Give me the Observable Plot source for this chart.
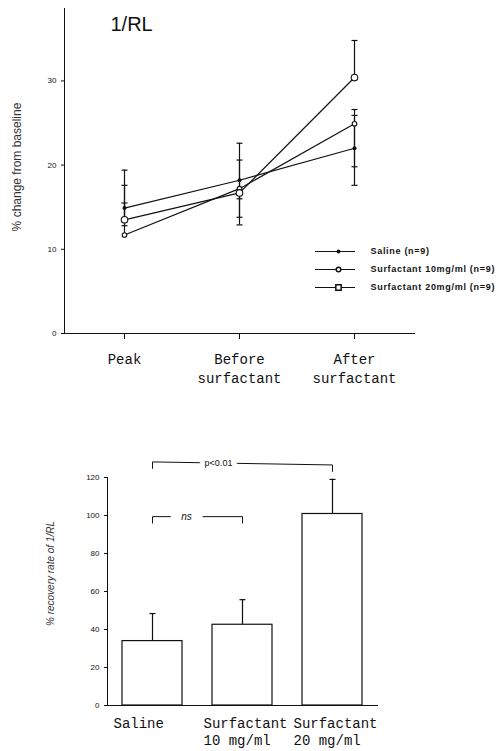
<!DOCTYPE html>
<html><head><meta charset="utf-8">
<script src="https://cdn.jsdelivr.net/npm/d3@7"></script>
<script src="https://cdn.jsdelivr.net/npm/@observablehq/plot@0.6"></script>
<style>
body{margin:0;background:#fff;}
#wrap{position:relative;width:499px;height:751px;overflow:hidden;background:#fff;}
#wrap svg{display:block;}
#legend{position:absolute;left:300px;top:240px;}
</style></head><body>
<div id="wrap"><div id="top"></div><div id="bottom"></div><div id="legend"></div></div>
<script>
// ---- Top chart data: 1/RL, % change from baseline ----
const timepoints = ["Peak", "Before surfactant", "After surfactant"];
const timeLabels = ["Peak", "Before\nsurfactant", "After\nsurfactant"];
const seriesNames = ["Saline (n=9)", "Surfactant 10mg/ml (n=9)", "Surfactant 20mg/ml (n=9)"];
const salineMean = [14.9, 18.2, 22.0];
const salineHi   = [17.6, 20.6, 26.6];
const salineLo   = [12.8, 16.0, 17.6];
const surf10Mean = [11.7, 17.2, 24.9];
const surf10Hi   = [15.5, 22.6, 25.9];
const surf10Lo   = [11.7, 13.8, 19.8];
const surf20Mean = [13.5, 16.7, 30.4];
const surf20Hi   = [19.4, 16.7, 34.8];
const surf20Lo   = [13.5, 12.9, 30.4];
const topYTicks = [0, 10, 20, 30];

// ---- Bottom chart data: % recovery rate of 1/RL ----
const barCategories = ["Saline", "Surfactant 10 mg/ml", "Surfactant 20 mg/ml"];
const barLabels = ["Saline", "Surfactant\n10 mg/ml", "Surfactant\n20 mg/ml"];
const recoveryMean = [33.9, 42.5, 100.8];
const recoveryErr  = [14.5, 13.2, 18.2];
const barYTicks = [0, 20, 40, 60, 80, 100, 120];
const bracketFrom = ["Saline", "Saline"];
const bracketTo = ["Surfactant 20 mg/ml", "Surfactant 10 mg/ml"];
const bracketYFrom = [128.2, 99.4];
const bracketYTo = [126.6, 99.4];
const bracketLabels = ["p<0.01", "ns"];

// custom horizontal cap symbol for error bars
const capSymbol = {draw(ctx, size) { const w = Math.sqrt(size / Math.PI); ctx.moveTo(-w, 0); ctx.lineTo(w, 0); }};

const seriesData = [[salineMean, salineHi, salineLo], [surf10Mean, surf10Hi, surf10Lo], [surf20Mean, surf20Hi, surf20Lo]];
const rows = [];
seriesData.forEach((arr, s) => timepoints.forEach((t, i) => rows.push({series: seriesNames[s], time: t, mean: arr[0][i], hi: arr[1][i], lo: arr[2][i]})));
const ink = "#111";

const topPlot = Plot.plot({
  width: 499, height: 390,
  marginLeft: 64, marginRight: 85, marginTop: 8, marginBottom: 57,
  style: {fontFamily: "'Liberation Sans', Arial, sans-serif", fontSize: "8px", color: ink, background: "white", overflow: "visible"},
  x: {type: "point", domain: timepoints, padding: 0.52},
  y: {domain: [0, 38.6]},
  marks: [
    Plot.frame({anchor: "left", stroke: ink}),
    Plot.frame({anchor: "bottom", stroke: ink}),
    Plot.axisY({ticks: topYTicks, tickSize: 3, tickPadding: 5, label: null, fontSize: 8}),
    Plot.axisX({tickSize: 6, tickPadding: 12, label: null, tickFormat: d => timeLabels[timepoints.indexOf(d)],
      fontFamily: "'Liberation Mono', monospace", fontSize: 14, lineHeight: 1.3}),
    Plot.ruleX(rows, {x: "time", y1: "lo", y2: "hi", stroke: ink, strokeWidth: 1.2}),
    Plot.dot(rows.filter(d => d.hi > d.mean), {x: "time", y: "hi", symbol: capSymbol, r: 3, stroke: ink, fill: "none", strokeWidth: 1.2}),
    Plot.dot(rows.filter(d => d.lo < d.mean), {x: "time", y: "lo", symbol: capSymbol, r: 3, stroke: ink, fill: "none", strokeWidth: 1.2}),
    Plot.line(rows, {x: "time", y: "mean", z: "series", stroke: ink, strokeWidth: 1.2}),
    Plot.dot(rows.filter(d => d.series === seriesNames[0]), {x: "time", y: "mean", r: 2, fill: ink}),
    Plot.dot(rows.filter(d => d.series === seriesNames[1]), {x: "time", y: "mean", r: 2.3, fill: "white", stroke: ink, strokeWidth: 1.1}),
    Plot.dot(rows.filter(d => d.series === seriesNames[2]), {x: "time", y: "mean", r: 3.3, fill: "white", stroke: ink, strokeWidth: 1.1}),
    Plot.text(["1/RL"], {frameAnchor: "top-left", dx: 46, dy: 8, fontSize: 20, textAnchor: "start", fill: ink}),
    Plot.text(["% change from baseline"], {frameAnchor: "left", textAnchor: "middle", rotate: -90, dx: -47, dy: -4, fontSize: 12, fill: "#333"})
  ]
});
document.getElementById("top").append(topPlot);

const legendPlot = Plot.plot({
  width: 199, height: 58,
  marginLeft: 15, marginRight: 144, marginTop: 10, marginBottom: 11,
  style: {fontFamily: "'Liberation Sans', Arial, sans-serif", background: "transparent", overflow: "visible", letterSpacing: "0.7px"},
  y: {type: "point", domain: seriesNames, axis: null, padding: 0},
  marks: [
    Plot.ruleY(seriesNames, {y: d => d, stroke: ink, strokeWidth: 1}),
    Plot.dot([seriesNames[0]], {y: d => d, dx: 3, r: 2, fill: ink}),
    Plot.dot([seriesNames[1]], {y: d => d, dx: 3, r: 2.3, fill: "white", stroke: ink}),
    Plot.dot([seriesNames[2]], {y: d => d, dx: 3, r: 3, symbol: "square", fill: "white", stroke: ink}),
    Plot.text(seriesNames, {y: d => d, text: d => d, frameAnchor: "right", textAnchor: "start", dx: 15, fontWeight: "bold", fontSize: 9, fill: ink})
  ]
});
document.getElementById("legend").append(legendPlot);

const bars = barCategories.map((c, i) => ({cat: c, label: barLabels[i], mean: recoveryMean[i], top: recoveryMean[i] + recoveryErr[i]}));
const bracketPts = [];
bracketLabels.forEach((lab, i) => {
  bracketPts.push({k: lab, x: bracketFrom[i], y: bracketYFrom[i] - 3.4});
  bracketPts.push({k: lab, x: bracketFrom[i], y: bracketYFrom[i]});
  bracketPts.push({k: lab, x: bracketTo[i], y: bracketYTo[i]});
  bracketPts.push({k: lab, x: bracketTo[i], y: bracketYTo[i] - 3.4});
});

const bottomPlot = Plot.plot({
  width: 499, height: 361,
  marginLeft: 107, marginRight: 122, marginTop: 87, marginBottom: 46,
  style: {fontFamily: "'Liberation Sans', Arial, sans-serif", fontSize: "8px", color: ink, background: "white", overflow: "visible"},
  x: {type: "band", domain: barCategories, paddingInner: 1/3, paddingOuter: 1/6, axis: null},
  y: {domain: [0, 120]},
  marks: [
    Plot.frame({anchor: "left", stroke: ink}),
    Plot.frame({anchor: "bottom", stroke: ink}),
    Plot.axisY({ticks: barYTicks, tickSize: 3, tickPadding: 5, label: null, fontSize: 8}),
    Plot.ruleX(bars, {x: "cat", y1: "mean", y2: "top", stroke: ink, strokeWidth: 1.2}),
    Plot.dot(bars, {x: "cat", y: "top", symbol: capSymbol, r: 3, stroke: ink, fill: "none", strokeWidth: 1.2}),
    Plot.barY(bars, {x: "cat", y: "mean", fill: "white", stroke: ink, strokeWidth: 1.2}),
    Plot.text(bars, {x: "cat", text: "label", frameAnchor: "bottom", textAnchor: "start", lineAnchor: "top", dx: -39, dy: 10,
      fontFamily: "'Liberation Mono', monospace", fontSize: 14, lineHeight: 1.25, fill: ink}),
    Plot.line(bracketPts, {x: "x", y: "y", z: "k", stroke: ink, strokeWidth: 1}),
    Plot.text([bracketLabels[0]], {x: () => bracketFrom[0], y: () => 127.4, text: d => d, dx: 66, fontSize: 9, fill: ink, stroke: "white", strokeWidth: 10}),
    Plot.text([bracketLabels[1]], {x: () => bracketFrom[1], y: () => bracketYTo[1], text: d => d, dx: 34, fontSize: 10, fontStyle: "italic", fill: ink, stroke: "white", strokeWidth: 22}),
    Plot.text(["% recovery rate of 1/RL"], {frameAnchor: "left", textAnchor: "middle", rotate: -90, dx: -57, dy: -18, fontSize: 10, fontStyle: "italic", fill: "#333"})
  ]
});
document.getElementById("bottom").append(bottomPlot);
</script>
</body></html>
